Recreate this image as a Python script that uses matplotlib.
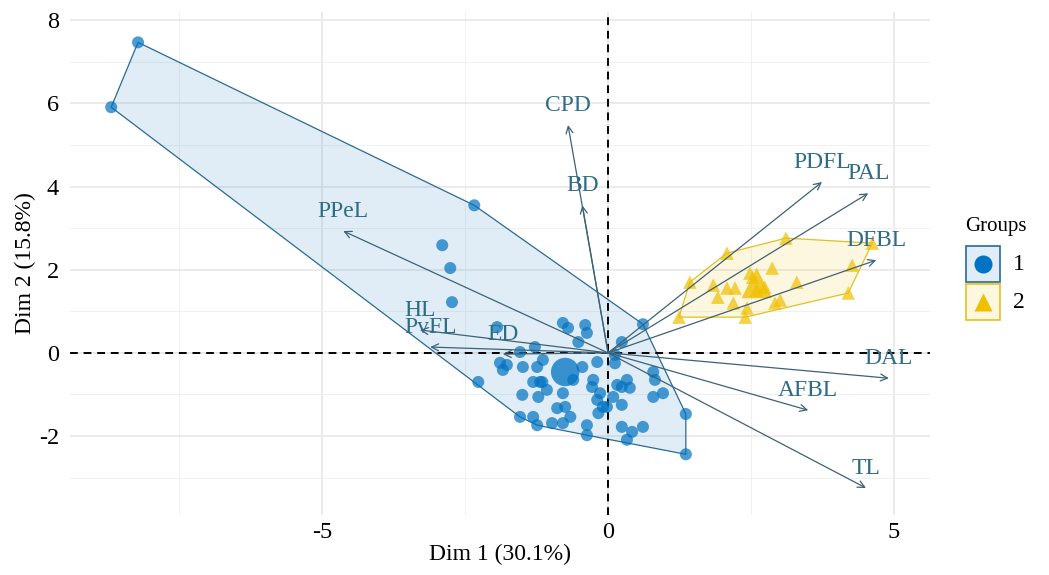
import numpy as np
import matplotlib
matplotlib.use("Agg")
import matplotlib.pyplot as plt
from matplotlib.patches import Polygon, Rectangle
from matplotlib.lines import Line2D

# ---------------- data ----------------
g1_x = [-8.22, -8.69, -2.34, -2.90, -2.76, -2.73, -1.94, -0.79, -0.70, -0.40, -0.37, -0.52,
        -1.28, -1.54, 0.24, 0.61, 0.12, -1.89, -1.84, -1.49, -1.24, -1.14, -1.19, -1.31,
        -1.07, -0.61, -0.45, -0.19, -0.26, -0.28, -0.14, -0.19, -0.09, -0.17, 0.16, 0.33,
        0.24, 0.38, 0.09, 0.24, 0.79, 0.82, 0.79, 0.96, -2.27, -1.50, -1.22, -0.79, -0.89,
        -0.75, -1.54, -1.31, -1.24, -0.98, -0.79, -0.66, -0.37, -0.37, 0.24, 0.42, 0.61,
        0.33, 1.36, 1.36, 0.12, -0.02, -1.77, -1.15]
g1_y = [7.47, 5.91, 3.55, 2.59, 2.04, 1.22, 0.62, 0.72, 0.60, 0.67, 0.48, 0.26,
        0.14, 0.02, 0.26, 0.69, -0.05, -0.24, -0.41, -0.34, -0.34, -0.17, -0.70, -0.70,
        -0.89, -0.65, -0.34, -0.22, -0.65, -0.82, -0.97, -1.13, -1.30, -1.45, -0.77, -0.65,
        -0.82, -0.84, -1.06, -1.25, -0.46, -0.65, -1.06, -0.97, -0.70, -1.01, -1.06, -0.97, -1.33,
        -1.30, -1.54, -1.54, -1.74, -1.69, -1.69, -1.54, -1.74, -1.98, -1.78, -1.90, -1.78,
        -2.09, -1.47, -2.44, -0.25, -1.30, -0.29, -0.70]

g2_x = [3.11, 2.08, 1.43, 1.24, 1.84, 1.92, 2.08, 2.22, 2.19, 2.43, 2.40, 2.48, 2.74,
        2.87, 2.92, 3.01, 3.30, 4.27, 4.20, 4.62, 2.53, 2.60]
g2_y = [2.76, 2.40, 1.70, 0.86, 1.63, 1.34, 1.56, 1.56, 1.20, 1.08, 0.86, 1.92, 1.58,
        2.04, 1.20, 1.27, 1.70, 2.11, 1.44, 2.64, 1.82, 1.51]

mean_x = [-0.75, 2.60]
mean_y = [-0.46, 1.68]

var_names = ["CPD", "BD", "PDFL", "PAL", "DFBL", "DAL", "AFBL", "TL", "PPeL", "HL", "PvFL", "ED"]
var_x = [-0.70, -0.45, 3.74, 4.55, 4.69, 4.91, 3.50, 4.51, -4.63, -3.29, -3.11, -1.84]
var_y = [5.48, 3.55, 4.11, 3.84, 2.23, -0.61, -1.38, -3.25, 2.93, 0.55, 0.14, -0.03]

group_labels = ["1", "2"]
x_ticks = [-5, 0, 5]
y_ticks = [-2, 0, 2, 4, 6, 8]

# ---------------- style ----------------
BLUE = "#0073C2"
GOLD = "#EFC000"
ARROW = "#3D6276"
VTEXT = "#2E6C86"
SERIF = ["Liberation Serif", "DejaVu Serif"]
plt.rcParams["font.family"] = SERIF
plt.rcParams["axes.unicode_minus"] = False


def hull(px, py):
    pts = sorted(set(zip(px, py)))
    def cross(o, a, b):
        return (a[0]-o[0])*(b[1]-o[1]) - (a[1]-o[1])*(b[0]-o[0])
    lower, upper = [], []
    for p in pts:
        while len(lower) >= 2 and cross(lower[-2], lower[-1], p) <= 0:
            lower.pop()
        lower.append(p)
    for p in reversed(pts):
        while len(upper) >= 2 and cross(upper[-2], upper[-1], p) <= 0:
            upper.pop()
        upper.append(p)
    return lower[:-1] + upper[:-1]


fig = plt.figure(figsize=(10.49, 5.75), dpi=100)
ax = fig.add_axes([70/1049, 1-515/575, 860/1049, 503/575])
ax.set_xlim(-9.41, 5.63)
ax.set_ylim(-3.9, 8.2)

# grid
for s in ax.spines.values():
    s.set_visible(False)
ax.set_xticks(x_ticks)
ax.set_yticks(y_ticks)
ax.set_xticks([-7.5, -2.5, 2.5], minor=True)
ax.set_yticks([-3, -1, 1, 3, 5, 7], minor=True)
ax.grid(which="major", color="#E6E6E6", linewidth=1.1)
ax.grid(which="minor", color="#F0F0F0", linewidth=0.7)
ax.tick_params(which="both", length=0, labelsize=17.5, pad=8)
ax.tick_params(axis="x", pad=5)
ax.set_axisbelow(True)

# hulls
for gx, gy, c, ec in [(g1_x, g1_y, BLUE, "#2B6A94"), (g2_x, g2_y, GOLD, "#E3C020")]:
    h = hull(gx, gy)
    ax.add_patch(Polygon(h, closed=True, facecolor=c, alpha=0.12, edgecolor="none", zorder=1))
    ax.add_patch(Polygon(h, closed=True, facecolor="none", edgecolor=ec, linewidth=0.9, zorder=2))

# zero lines
ax.axhline(0, color="black", linestyle=(0, (4, 3)), linewidth=1.4, zorder=3)
ax.axvline(0, color="black", linestyle=(0, (4, 3)), linewidth=1.4, zorder=3)

# points
ax.scatter(g1_x, g1_y, s=75, color=BLUE, alpha=0.7, edgecolors="none", marker="o", zorder=4)
ax.scatter(g2_x, g2_y, s=95, color=GOLD, alpha=0.7, edgecolors="none", marker="^", zorder=4)
ax.scatter(mean_x[:1], mean_y[:1], s=420, color=BLUE, alpha=0.75, edgecolors="none", marker="o", zorder=5)
ax.scatter(mean_x[1:], mean_y[1:], s=480, color=GOLD, alpha=0.8, edgecolors="none", marker="^", zorder=5)

# variable arrows
for name, vx, vy in zip(var_names, var_x, var_y):
    ax.annotate("", xy=(vx, vy), xytext=(0, 0),
                arrowprops=dict(arrowstyle="->,head_length=0.5,head_width=0.25",
                                color=ARROW, linewidth=0.9, shrinkA=0, shrinkB=0),
                zorder=6)
    ax.annotate(name, xy=(vx, vy), xytext=(0, 14), textcoords="offset points",
                ha="center", va="center", fontsize=17, color=VTEXT, zorder=7)

ax.set_xlabel("Dim 1 (30.1%)", fontsize=17, labelpad=1)
ax.set_ylabel("Dim 2 (15.8%)", fontsize=17, labelpad=2)

# legend
lax = fig.add_axes([950/1049, 1-330/575, 99/1049, 130/575])
lax.set_xlim(0, 99)
lax.set_ylim(130, 0)
lax.axis("off")
lax.text(15, 26, "Groups", fontsize=15, va="center", ha="left")
for i, (lab, c, ec, m) in enumerate([(group_labels[0], BLUE, "#2B6A94", "o"),
                                     (group_labels[1], GOLD, "#E3C020", "^")]):
    y0 = 46 + i * 38
    lax.add_patch(Rectangle((16, y0), 34, 36, facecolor=c, alpha=0.12, edgecolor="none"))
    lax.add_patch(Rectangle((16, y0), 34, 36, facecolor="none", edgecolor=ec, linewidth=1.2))
    lax.plot([33], [y0 + 18], marker=m, markersize=13, color=c, markeredgecolor="none")
    lax.text(63, y0 + 18, lab, fontsize=17, va="center", ha="left")

fig.savefig("out.png", dpi=100)
